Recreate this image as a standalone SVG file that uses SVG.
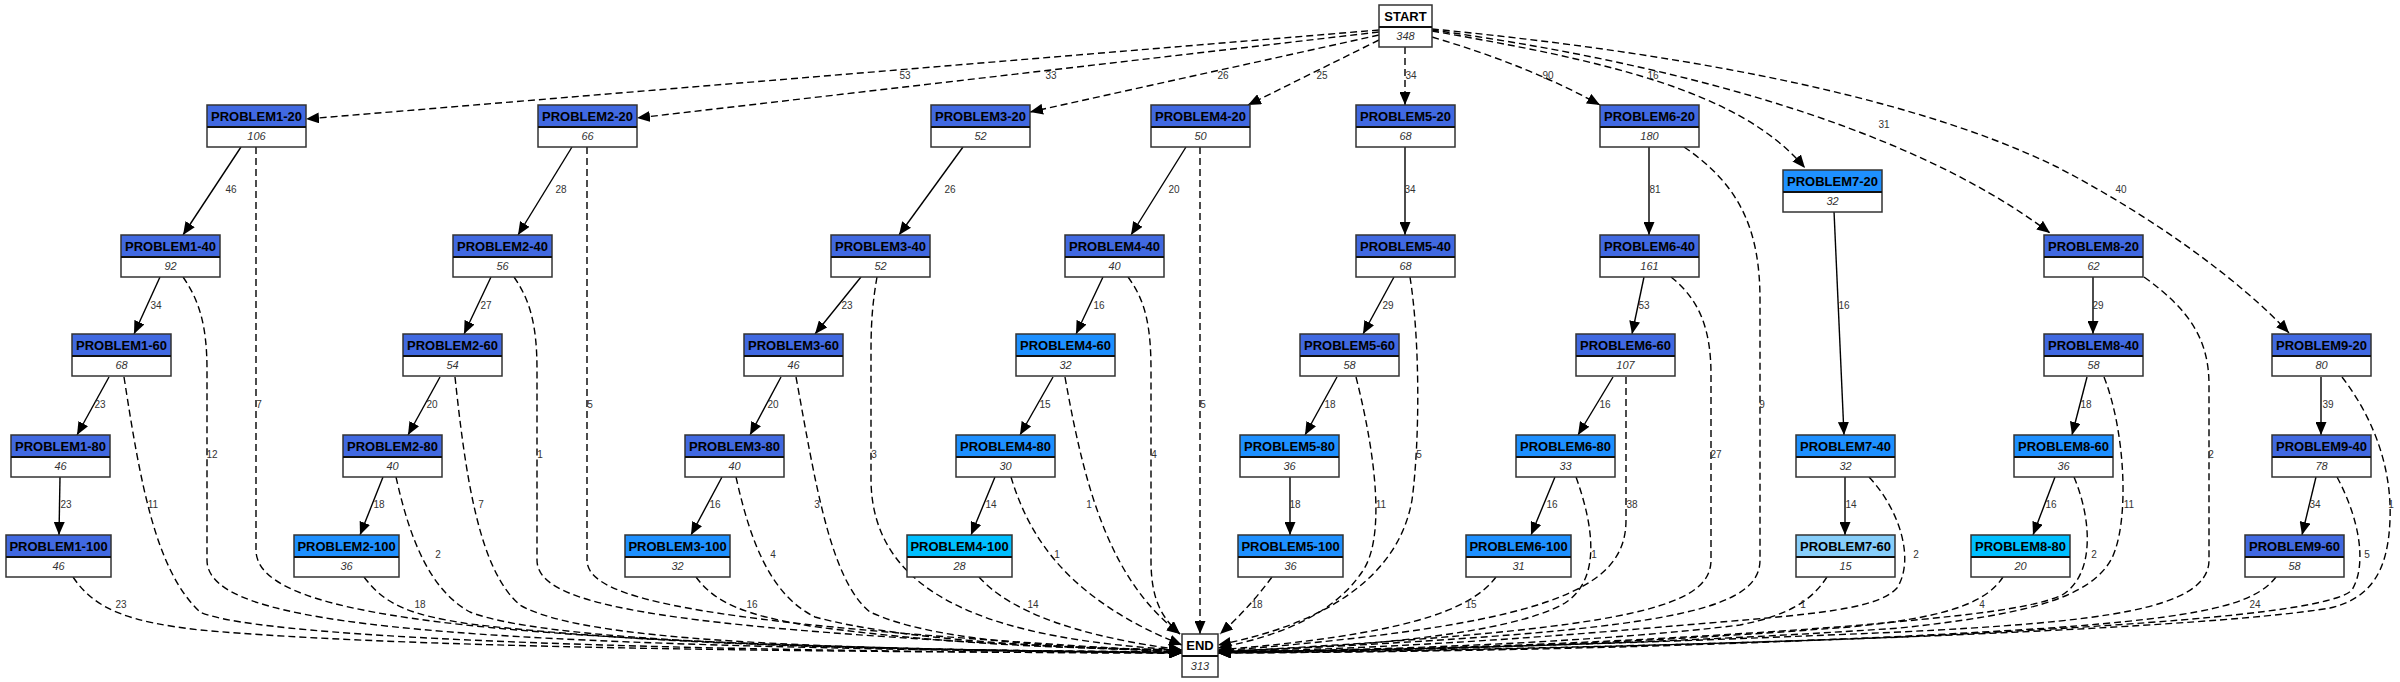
<svg xmlns="http://www.w3.org/2000/svg" width="2400" height="682" viewBox="0 0 2400 682">
<style>
.bg{fill:#ffffff}
.e{fill:none;stroke:#000;stroke-width:1.4}
.d{stroke-dasharray:7,4}
.lbl{font-family:"Liberation Sans",Arial,sans-serif;font-size:10px;fill:#333;text-anchor:middle}
.hd{stroke:none}
.royal{fill:#4169E1}
.dodger{fill:#1E90FF}
.deepsky{fill:#00BFFF}
.lightsky{fill:#87CEFA}
.wh{fill:#ffffff}
.body{fill:#ffffff;stroke:none}
.border{fill:none;stroke:#333;stroke-width:1.5}
.sep{stroke:#111;stroke-width:2}
.name{font-family:"Liberation Sans",Arial,sans-serif;font-size:13px;font-weight:bold;fill:#000;text-anchor:middle}
.cnt{font-family:"Liberation Sans",Arial,sans-serif;font-size:11px;font-style:italic;fill:#333;text-anchor:middle}
</style>
<defs>
<marker id="arr" markerUnits="userSpaceOnUse" markerWidth="14" markerHeight="11" refX="13" refY="5.5" orient="auto">
<path d="M0,0 L13,5.5 L0,11 Z" fill="#000"/>
</marker>
</defs>
<rect class="bg" x="0" y="0" width="2400" height="682"/>
<g id="edges">
<!-- START edges -->
<path class="e d" marker-end="url(#arr)" d="M1379,30 L306,119"/>
<path class="e d" marker-end="url(#arr)" d="M1379,32 L637,118"/>
<path class="e d" marker-end="url(#arr)" d="M1379,35 L1030,112"/>
<path class="e d" marker-end="url(#arr)" d="M1379,40 L1248,105"/>
<path class="e d" marker-end="url(#arr)" d="M1405,47 L1405,105"/>
<path class="e d" marker-end="url(#arr)" d="M1432,37 Q1530,66 1600,105"/>
<path class="e d" marker-end="url(#arr)" d="M1432,31 C1600,60 1740,90 1805,168"/>
<path class="e d" marker-end="url(#arr)" d="M1432,30 C1650,60 1900,120 2050,233"/>
<path class="e d" marker-end="url(#arr)" d="M1432,29 C1650,50 1900,90 2057,167 C2150,215 2240,280 2289,333"/>
<!-- chain edges -->
<path class="e" marker-end="url(#arr)" d="M241,147 L183,235"/>
<path class="e" marker-end="url(#arr)" d="M160,277 L134,334"/>
<path class="e" marker-end="url(#arr)" d="M109,377 L77,435"/>
<path class="e" marker-end="url(#arr)" d="M60,477 L59,535"/>
<path class="e" marker-end="url(#arr)" d="M572,147 L518,235"/>
<path class="e" marker-end="url(#arr)" d="M491,277 L464,334"/>
<path class="e" marker-end="url(#arr)" d="M440,377 L408,435"/>
<path class="e" marker-end="url(#arr)" d="M383,477 L360,535"/>
<path class="e" marker-end="url(#arr)" d="M963,147 L899,235"/>
<path class="e" marker-end="url(#arr)" d="M861,277 L815,334"/>
<path class="e" marker-end="url(#arr)" d="M781,377 L750,435"/>
<path class="e" marker-end="url(#arr)" d="M722,477 L691,535"/>
<path class="e" marker-end="url(#arr)" d="M1186,147 L1131,235"/>
<path class="e" marker-end="url(#arr)" d="M1103,277 L1076,334"/>
<path class="e" marker-end="url(#arr)" d="M1053,377 L1020,435"/>
<path class="e" marker-end="url(#arr)" d="M995,477 L971,535"/>
<path class="e" marker-end="url(#arr)" d="M1405,147 L1405,235"/>
<path class="e" marker-end="url(#arr)" d="M1394,277 L1363,334"/>
<path class="e" marker-end="url(#arr)" d="M1337,377 L1305,435"/>
<path class="e" marker-end="url(#arr)" d="M1290,477 L1290,535"/>
<path class="e" marker-end="url(#arr)" d="M1649,147 L1649,235"/>
<path class="e" marker-end="url(#arr)" d="M1644,277 L1632,334"/>
<path class="e" marker-end="url(#arr)" d="M1613,377 L1578,435"/>
<path class="e" marker-end="url(#arr)" d="M1555,477 L1531,535"/>
<path class="e" marker-end="url(#arr)" d="M1834,211 L1844,435"/>
<path class="e" marker-end="url(#arr)" d="M1845,477 L1845,535"/>
<path class="e" marker-end="url(#arr)" d="M2093,277 L2093,334"/>
<path class="e" marker-end="url(#arr)" d="M2087,377 L2072,435"/>
<path class="e" marker-end="url(#arr)" d="M2055,477 L2033,535"/>
<path class="e" marker-end="url(#arr)" d="M2321,377 L2321,435"/>
<path class="e" marker-end="url(#arr)" d="M2316,477 L2302,535"/>
<!-- END edges, left -->
<path class="e d" marker-end="url(#arr)" d="M256,147 L256,550 C256,620 500,645 1182,653"/>
<path class="e d" marker-end="url(#arr)" d="M183,277 C199,300 207,325 207,370 L207,560 C207,628 450,646 1182,653"/>
<path class="e d" marker-end="url(#arr)" d="M124,377 C140,480 155,570 200,612 C260,640 700,652 1182,653"/>
<path class="e d" marker-end="url(#arr)" d="M73,577 C95,610 130,622 200,630 C400,648 800,652 1182,653"/>
<path class="e d" marker-end="url(#arr)" d="M587,147 L587,560 C587,600 700,625 1182,652"/>
<path class="e d" marker-end="url(#arr)" d="M514,277 C530,300 537,325 537,370 L537,560 C537,605 650,630 1182,652"/>
<path class="e d" marker-end="url(#arr)" d="M455,377 C465,470 478,570 520,605 C580,640 800,650 1182,652"/>
<path class="e d" marker-end="url(#arr)" d="M396,477 C410,540 430,590 470,612 C540,640 800,650 1182,652"/>
<path class="e d" marker-end="url(#arr)" d="M364,577 C385,605 410,615 470,624 C650,645 900,651 1182,652"/>
<path class="e d" marker-end="url(#arr)" d="M877,277 C873,300 871,320 871,350 L871,480 C872,600 1000,640 1182,650"/>
<path class="e d" marker-end="url(#arr)" d="M796,377 C815,480 830,580 870,612 C930,640 1050,648 1182,650"/>
<path class="e d" marker-end="url(#arr)" d="M736,477 C750,540 770,595 815,617 C900,640 1050,648 1182,650"/>
<path class="e d" marker-end="url(#arr)" d="M696,577 C715,603 745,615 810,626 C950,645 1080,649 1182,650"/>
<path class="e d" marker-end="url(#arr)" d="M1128,277 C1145,300 1151,325 1151,370 L1151,560 C1151,600 1162,618 1180,634"/>
<path class="e d" marker-end="url(#arr)" d="M1065,377 C1085,490 1110,580 1180,634"/>
<path class="e d" marker-end="url(#arr)" d="M1011,477 C1030,540 1070,600 1182,645"/>
<path class="e d" marker-end="url(#arr)" d="M979,577 C1010,612 1080,637 1182,650"/>
<path class="e d" marker-end="url(#arr)" d="M1200,147 L1200,634"/>
<!-- END edges, right -->
<path class="e d" marker-end="url(#arr)" d="M1272,577 C1255,600 1238,618 1220,634"/>
<path class="e d" marker-end="url(#arr)" d="M1410,277 C1420,340 1420,440 1412,500 C1398,580 1320,625 1218,645"/>
<path class="e d" marker-end="url(#arr)" d="M1356,377 C1377,460 1385,540 1362,572 C1335,612 1285,635 1218,648"/>
<path class="e d" marker-end="url(#arr)" d="M1684,147 C1740,185 1760,230 1760,300 L1760,560 C1760,615 1650,632 1218,652"/>
<path class="e d" marker-end="url(#arr)" d="M1671,277 C1700,300 1711,330 1711,375 L1711,560 C1711,610 1620,630 1218,652"/>
<path class="e d" marker-end="url(#arr)" d="M1626,377 L1626,520 C1626,590 1550,625 1218,651"/>
<path class="e d" marker-end="url(#arr)" d="M1576,477 C1595,530 1600,580 1565,603 C1510,635 1350,648 1218,651"/>
<path class="e d" marker-end="url(#arr)" d="M1496,577 C1470,612 1400,635 1218,650"/>
<path class="e d" marker-end="url(#arr)" d="M1869,477 C1900,510 1915,560 1897,588 C1875,612 1800,615 1650,628 C1450,645 1320,650 1218,652"/>
<path class="e d" marker-end="url(#arr)" d="M1827,577 C1812,600 1790,615 1740,625 C1600,642 1400,650 1218,652"/>
<path class="e d" marker-end="url(#arr)" d="M2144,277 C2190,310 2209,340 2209,385 L2209,560 C2209,610 2100,622 1900,632 C1600,645 1400,650 1218,652"/>
<path class="e d" marker-end="url(#arr)" d="M2104,377 C2125,430 2130,520 2112,558 C2090,600 2020,615 1900,628 C1650,645 1400,650 1218,652"/>
<path class="e d" marker-end="url(#arr)" d="M2074,477 C2092,520 2095,575 2062,595 C2030,610 1950,617 1850,626 C1600,645 1400,650 1218,652"/>
<path class="e d" marker-end="url(#arr)" d="M2003,577 C1985,605 1940,618 1850,627 C1600,646 1400,651 1218,652"/>
<path class="e d" marker-end="url(#arr)" d="M2342,377 C2375,420 2392,470 2390,520 C2388,570 2372,598 2330,608 C2200,630 1700,648 1218,653"/>
<path class="e d" marker-end="url(#arr)" d="M2337,477 C2360,520 2367,565 2352,590 C2330,612 2150,625 1900,637 C1600,648 1400,652 1218,653"/>
<path class="e d" marker-end="url(#arr)" d="M2276,577 C2255,605 2200,617 2050,628 C1750,647 1450,652 1218,653"/>
<!-- labels -->
<text class="lbl" x="905" y="78.5">53</text>
<text class="lbl" x="1051" y="78.5">33</text>
<text class="lbl" x="1223" y="78.5">26</text>
<text class="lbl" x="1322" y="78.5">25</text>
<text class="lbl" x="1411" y="78.5">34</text>
<text class="lbl" x="1548" y="78.5">90</text>
<text class="lbl" x="1653" y="78.5">16</text>
<text class="lbl" x="1884" y="127.5">31</text>
<text class="lbl" x="2121" y="192.5">40</text>
<text class="lbl" x="231" y="192.5">46</text>
<text class="lbl" x="561" y="192.5">28</text>
<text class="lbl" x="950" y="192.5">26</text>
<text class="lbl" x="1174" y="192.5">20</text>
<text class="lbl" x="1410" y="192.5">34</text>
<text class="lbl" x="1655" y="192.5">81</text>
<text class="lbl" x="156" y="308.5">34</text>
<text class="lbl" x="486" y="308.5">27</text>
<text class="lbl" x="847" y="308.5">23</text>
<text class="lbl" x="1099" y="308.5">16</text>
<text class="lbl" x="1388" y="308.5">29</text>
<text class="lbl" x="1644" y="308.5">53</text>
<text class="lbl" x="1844" y="308.5">16</text>
<text class="lbl" x="2098" y="308.5">29</text>
<text class="lbl" x="100" y="407.5">23</text>
<text class="lbl" x="259" y="407.5">7</text>
<text class="lbl" x="432" y="407.5">20</text>
<text class="lbl" x="590" y="407.5">5</text>
<text class="lbl" x="773" y="407.5">20</text>
<text class="lbl" x="1045" y="407.5">15</text>
<text class="lbl" x="1203" y="407.5">5</text>
<text class="lbl" x="1330" y="407.5">18</text>
<text class="lbl" x="1605" y="407.5">16</text>
<text class="lbl" x="1762" y="407.5">9</text>
<text class="lbl" x="2086" y="407.5">18</text>
<text class="lbl" x="2328" y="407.5">39</text>
<text class="lbl" x="212" y="457.5">12</text>
<text class="lbl" x="540" y="457.5">1</text>
<text class="lbl" x="874" y="457.5">3</text>
<text class="lbl" x="1154" y="457.5">4</text>
<text class="lbl" x="1419" y="457.5">5</text>
<text class="lbl" x="1716" y="457.5">27</text>
<text class="lbl" x="2211" y="457.5">2</text>
<text class="lbl" x="66" y="507.5">23</text>
<text class="lbl" x="153" y="507.5">11</text>
<text class="lbl" x="379" y="507.5">18</text>
<text class="lbl" x="481" y="507.5">7</text>
<text class="lbl" x="715" y="507.5">16</text>
<text class="lbl" x="817" y="507.5">3</text>
<text class="lbl" x="991" y="507.5">14</text>
<text class="lbl" x="1089" y="507.5">1</text>
<text class="lbl" x="1295" y="507.5">18</text>
<text class="lbl" x="1381" y="507.5">11</text>
<text class="lbl" x="1552" y="507.5">16</text>
<text class="lbl" x="1632" y="507.5">38</text>
<text class="lbl" x="1851" y="507.5">14</text>
<text class="lbl" x="2051" y="507.5">16</text>
<text class="lbl" x="2129" y="507.5">11</text>
<text class="lbl" x="2315" y="507.5">34</text>
<text class="lbl" x="2391" y="507.5">1</text>
<text class="lbl" x="438" y="557.5">2</text>
<text class="lbl" x="773" y="557.5">4</text>
<text class="lbl" x="1057" y="557.5">1</text>
<text class="lbl" x="1594" y="557.5">1</text>
<text class="lbl" x="1916" y="557.5">2</text>
<text class="lbl" x="2094" y="557.5">2</text>
<text class="lbl" x="2367" y="557.5">5</text>
<text class="lbl" x="121" y="607.5">23</text>
<text class="lbl" x="420" y="607.5">18</text>
<text class="lbl" x="752" y="607.5">16</text>
<text class="lbl" x="1033" y="607.5">14</text>
<text class="lbl" x="1257" y="607.5">18</text>
<text class="lbl" x="1471" y="607.5">15</text>
<text class="lbl" x="1803" y="607.5">1</text>
<text class="lbl" x="1982" y="607.5">4</text>
<text class="lbl" x="2255" y="607.5">24</text>
</g>
<g id="start"><rect class="wh" x="1379" y="5" width="53" height="22"/><rect class="body" x="1379" y="27" width="53" height="20"/><rect class="border" x="1379" y="5" width="53" height="42"/><line class="sep" x1="1379" y1="27" x2="1432" y2="27"/><text class="name" x="1405.5" y="20.5">START</text><text class="cnt" x="1405.5" y="40">348</text></g>
<g id="end"><rect class="wh" x="1182" y="634" width="36" height="22"/><rect class="body" x="1182" y="656" width="36" height="21"/><rect class="border" x="1182" y="634" width="36" height="43"/><line class="sep" x1="1182" y1="656" x2="1218" y2="656"/><text class="name" x="1200" y="649.5">END</text><text class="cnt" x="1200" y="670">313</text></g>
<g id="problem1-20"><rect class="royal" x="207" y="105" width="99" height="22"/><rect class="body" x="207" y="127" width="99" height="20"/><rect class="border" x="207" y="105" width="99" height="42"/><line class="sep" x1="207" y1="127" x2="306" y2="127"/><text class="name" x="256.5" y="120.5">PROBLEM1-20</text><text class="cnt" x="256.5" y="140">106</text></g>
<g id="problem2-20"><rect class="royal" x="538" y="105" width="99" height="22"/><rect class="body" x="538" y="127" width="99" height="20"/><rect class="border" x="538" y="105" width="99" height="42"/><line class="sep" x1="538" y1="127" x2="637" y2="127"/><text class="name" x="587.5" y="120.5">PROBLEM2-20</text><text class="cnt" x="587.5" y="140">66</text></g>
<g id="problem3-20"><rect class="royal" x="931" y="105" width="99" height="22"/><rect class="body" x="931" y="127" width="99" height="20"/><rect class="border" x="931" y="105" width="99" height="42"/><line class="sep" x1="931" y1="127" x2="1030" y2="127"/><text class="name" x="980.5" y="120.5">PROBLEM3-20</text><text class="cnt" x="980.5" y="140">52</text></g>
<g id="problem4-20"><rect class="royal" x="1151" y="105" width="99" height="22"/><rect class="body" x="1151" y="127" width="99" height="20"/><rect class="border" x="1151" y="105" width="99" height="42"/><line class="sep" x1="1151" y1="127" x2="1250" y2="127"/><text class="name" x="1200.5" y="120.5">PROBLEM4-20</text><text class="cnt" x="1200.5" y="140">50</text></g>
<g id="problem5-20"><rect class="royal" x="1356" y="105" width="99" height="22"/><rect class="body" x="1356" y="127" width="99" height="20"/><rect class="border" x="1356" y="105" width="99" height="42"/><line class="sep" x1="1356" y1="127" x2="1455" y2="127"/><text class="name" x="1405.5" y="120.5">PROBLEM5-20</text><text class="cnt" x="1405.5" y="140">68</text></g>
<g id="problem6-20"><rect class="royal" x="1600" y="105" width="99" height="22"/><rect class="body" x="1600" y="127" width="99" height="20"/><rect class="border" x="1600" y="105" width="99" height="42"/><line class="sep" x1="1600" y1="127" x2="1699" y2="127"/><text class="name" x="1649.5" y="120.5">PROBLEM6-20</text><text class="cnt" x="1649.5" y="140">180</text></g>
<g id="problem7-20"><rect class="dodger" x="1783" y="170" width="99" height="22"/><rect class="body" x="1783" y="192" width="99" height="20"/><rect class="border" x="1783" y="170" width="99" height="42"/><line class="sep" x1="1783" y1="192" x2="1882" y2="192"/><text class="name" x="1832.5" y="185.5">PROBLEM7-20</text><text class="cnt" x="1832.5" y="205">32</text></g>
<g id="problem8-20"><rect class="royal" x="2044" y="235" width="99" height="22"/><rect class="body" x="2044" y="257" width="99" height="20"/><rect class="border" x="2044" y="235" width="99" height="42"/><line class="sep" x1="2044" y1="257" x2="2143" y2="257"/><text class="name" x="2093.5" y="250.5">PROBLEM8-20</text><text class="cnt" x="2093.5" y="270">62</text></g>
<g id="problem9-20"><rect class="royal" x="2272" y="334" width="99" height="22"/><rect class="body" x="2272" y="356" width="99" height="20"/><rect class="border" x="2272" y="334" width="99" height="42"/><line class="sep" x1="2272" y1="356" x2="2371" y2="356"/><text class="name" x="2321.5" y="349.5">PROBLEM9-20</text><text class="cnt" x="2321.5" y="369">80</text></g>
<g id="problem1-40"><rect class="royal" x="121" y="235" width="99" height="22"/><rect class="body" x="121" y="257" width="99" height="20"/><rect class="border" x="121" y="235" width="99" height="42"/><line class="sep" x1="121" y1="257" x2="220" y2="257"/><text class="name" x="170.5" y="250.5">PROBLEM1-40</text><text class="cnt" x="170.5" y="270">92</text></g>
<g id="problem2-40"><rect class="royal" x="453" y="235" width="99" height="22"/><rect class="body" x="453" y="257" width="99" height="20"/><rect class="border" x="453" y="235" width="99" height="42"/><line class="sep" x1="453" y1="257" x2="552" y2="257"/><text class="name" x="502.5" y="250.5">PROBLEM2-40</text><text class="cnt" x="502.5" y="270">56</text></g>
<g id="problem3-40"><rect class="royal" x="831" y="235" width="99" height="22"/><rect class="body" x="831" y="257" width="99" height="20"/><rect class="border" x="831" y="235" width="99" height="42"/><line class="sep" x1="831" y1="257" x2="930" y2="257"/><text class="name" x="880.5" y="250.5">PROBLEM3-40</text><text class="cnt" x="880.5" y="270">52</text></g>
<g id="problem4-40"><rect class="royal" x="1065" y="235" width="99" height="22"/><rect class="body" x="1065" y="257" width="99" height="20"/><rect class="border" x="1065" y="235" width="99" height="42"/><line class="sep" x1="1065" y1="257" x2="1164" y2="257"/><text class="name" x="1114.5" y="250.5">PROBLEM4-40</text><text class="cnt" x="1114.5" y="270">40</text></g>
<g id="problem5-40"><rect class="royal" x="1356" y="235" width="99" height="22"/><rect class="body" x="1356" y="257" width="99" height="20"/><rect class="border" x="1356" y="235" width="99" height="42"/><line class="sep" x1="1356" y1="257" x2="1455" y2="257"/><text class="name" x="1405.5" y="250.5">PROBLEM5-40</text><text class="cnt" x="1405.5" y="270">68</text></g>
<g id="problem6-40"><rect class="royal" x="1600" y="235" width="99" height="22"/><rect class="body" x="1600" y="257" width="99" height="20"/><rect class="border" x="1600" y="235" width="99" height="42"/><line class="sep" x1="1600" y1="257" x2="1699" y2="257"/><text class="name" x="1649.5" y="250.5">PROBLEM6-40</text><text class="cnt" x="1649.5" y="270">161</text></g>
<g id="problem7-40"><rect class="dodger" x="1796" y="435" width="99" height="22"/><rect class="body" x="1796" y="457" width="99" height="20"/><rect class="border" x="1796" y="435" width="99" height="42"/><line class="sep" x1="1796" y1="457" x2="1895" y2="457"/><text class="name" x="1845.5" y="450.5">PROBLEM7-40</text><text class="cnt" x="1845.5" y="470">32</text></g>
<g id="problem8-40"><rect class="royal" x="2044" y="334" width="99" height="22"/><rect class="body" x="2044" y="356" width="99" height="20"/><rect class="border" x="2044" y="334" width="99" height="42"/><line class="sep" x1="2044" y1="356" x2="2143" y2="356"/><text class="name" x="2093.5" y="349.5">PROBLEM8-40</text><text class="cnt" x="2093.5" y="369">58</text></g>
<g id="problem9-40"><rect class="royal" x="2272" y="435" width="99" height="22"/><rect class="body" x="2272" y="457" width="99" height="20"/><rect class="border" x="2272" y="435" width="99" height="42"/><line class="sep" x1="2272" y1="457" x2="2371" y2="457"/><text class="name" x="2321.5" y="450.5">PROBLEM9-40</text><text class="cnt" x="2321.5" y="470">78</text></g>
<g id="problem1-60"><rect class="royal" x="72" y="334" width="99" height="22"/><rect class="body" x="72" y="356" width="99" height="20"/><rect class="border" x="72" y="334" width="99" height="42"/><line class="sep" x1="72" y1="356" x2="171" y2="356"/><text class="name" x="121.5" y="349.5">PROBLEM1-60</text><text class="cnt" x="121.5" y="369">68</text></g>
<g id="problem2-60"><rect class="royal" x="403" y="334" width="99" height="22"/><rect class="body" x="403" y="356" width="99" height="20"/><rect class="border" x="403" y="334" width="99" height="42"/><line class="sep" x1="403" y1="356" x2="502" y2="356"/><text class="name" x="452.5" y="349.5">PROBLEM2-60</text><text class="cnt" x="452.5" y="369">54</text></g>
<g id="problem3-60"><rect class="royal" x="744" y="334" width="99" height="22"/><rect class="body" x="744" y="356" width="99" height="20"/><rect class="border" x="744" y="334" width="99" height="42"/><line class="sep" x1="744" y1="356" x2="843" y2="356"/><text class="name" x="793.5" y="349.5">PROBLEM3-60</text><text class="cnt" x="793.5" y="369">46</text></g>
<g id="problem4-60"><rect class="dodger" x="1016" y="334" width="99" height="22"/><rect class="body" x="1016" y="356" width="99" height="20"/><rect class="border" x="1016" y="334" width="99" height="42"/><line class="sep" x1="1016" y1="356" x2="1115" y2="356"/><text class="name" x="1065.5" y="349.5">PROBLEM4-60</text><text class="cnt" x="1065.5" y="369">32</text></g>
<g id="problem5-60"><rect class="royal" x="1300" y="334" width="99" height="22"/><rect class="body" x="1300" y="356" width="99" height="20"/><rect class="border" x="1300" y="334" width="99" height="42"/><line class="sep" x1="1300" y1="356" x2="1399" y2="356"/><text class="name" x="1349.5" y="349.5">PROBLEM5-60</text><text class="cnt" x="1349.5" y="369">58</text></g>
<g id="problem6-60"><rect class="royal" x="1576" y="334" width="99" height="22"/><rect class="body" x="1576" y="356" width="99" height="20"/><rect class="border" x="1576" y="334" width="99" height="42"/><line class="sep" x1="1576" y1="356" x2="1675" y2="356"/><text class="name" x="1625.5" y="349.5">PROBLEM6-60</text><text class="cnt" x="1625.5" y="369">107</text></g>
<g id="problem7-60"><rect class="lightsky" x="1796" y="535" width="99" height="22"/><rect class="body" x="1796" y="557" width="99" height="20"/><rect class="border" x="1796" y="535" width="99" height="42"/><line class="sep" x1="1796" y1="557" x2="1895" y2="557"/><text class="name" x="1845.5" y="550.5">PROBLEM7-60</text><text class="cnt" x="1845.5" y="570">15</text></g>
<g id="problem8-60"><rect class="dodger" x="2014" y="435" width="99" height="22"/><rect class="body" x="2014" y="457" width="99" height="20"/><rect class="border" x="2014" y="435" width="99" height="42"/><line class="sep" x1="2014" y1="457" x2="2113" y2="457"/><text class="name" x="2063.5" y="450.5">PROBLEM8-60</text><text class="cnt" x="2063.5" y="470">36</text></g>
<g id="problem9-60"><rect class="royal" x="2245" y="535" width="99" height="22"/><rect class="body" x="2245" y="557" width="99" height="20"/><rect class="border" x="2245" y="535" width="99" height="42"/><line class="sep" x1="2245" y1="557" x2="2344" y2="557"/><text class="name" x="2294.5" y="550.5">PROBLEM9-60</text><text class="cnt" x="2294.5" y="570">58</text></g>
<g id="problem1-80"><rect class="royal" x="11" y="435" width="99" height="22"/><rect class="body" x="11" y="457" width="99" height="20"/><rect class="border" x="11" y="435" width="99" height="42"/><line class="sep" x1="11" y1="457" x2="110" y2="457"/><text class="name" x="60.5" y="450.5">PROBLEM1-80</text><text class="cnt" x="60.5" y="470">46</text></g>
<g id="problem2-80"><rect class="royal" x="343" y="435" width="99" height="22"/><rect class="body" x="343" y="457" width="99" height="20"/><rect class="border" x="343" y="435" width="99" height="42"/><line class="sep" x1="343" y1="457" x2="442" y2="457"/><text class="name" x="392.5" y="450.5">PROBLEM2-80</text><text class="cnt" x="392.5" y="470">40</text></g>
<g id="problem3-80"><rect class="royal" x="685" y="435" width="99" height="22"/><rect class="body" x="685" y="457" width="99" height="20"/><rect class="border" x="685" y="435" width="99" height="42"/><line class="sep" x1="685" y1="457" x2="784" y2="457"/><text class="name" x="734.5" y="450.5">PROBLEM3-80</text><text class="cnt" x="734.5" y="470">40</text></g>
<g id="problem4-80"><rect class="dodger" x="956" y="435" width="99" height="22"/><rect class="body" x="956" y="457" width="99" height="20"/><rect class="border" x="956" y="435" width="99" height="42"/><line class="sep" x1="956" y1="457" x2="1055" y2="457"/><text class="name" x="1005.5" y="450.5">PROBLEM4-80</text><text class="cnt" x="1005.5" y="470">30</text></g>
<g id="problem5-80"><rect class="dodger" x="1240" y="435" width="99" height="22"/><rect class="body" x="1240" y="457" width="99" height="20"/><rect class="border" x="1240" y="435" width="99" height="42"/><line class="sep" x1="1240" y1="457" x2="1339" y2="457"/><text class="name" x="1289.5" y="450.5">PROBLEM5-80</text><text class="cnt" x="1289.5" y="470">36</text></g>
<g id="problem6-80"><rect class="dodger" x="1516" y="435" width="99" height="22"/><rect class="body" x="1516" y="457" width="99" height="20"/><rect class="border" x="1516" y="435" width="99" height="42"/><line class="sep" x1="1516" y1="457" x2="1615" y2="457"/><text class="name" x="1565.5" y="450.5">PROBLEM6-80</text><text class="cnt" x="1565.5" y="470">33</text></g>
<g id="problem8-80"><rect class="deepsky" x="1971" y="535" width="99" height="22"/><rect class="body" x="1971" y="557" width="99" height="20"/><rect class="border" x="1971" y="535" width="99" height="42"/><line class="sep" x1="1971" y1="557" x2="2070" y2="557"/><text class="name" x="2020.5" y="550.5">PROBLEM8-80</text><text class="cnt" x="2020.5" y="570">20</text></g>
<g id="problem1-100"><rect class="royal" x="6" y="535" width="105" height="22"/><rect class="body" x="6" y="557" width="105" height="20"/><rect class="border" x="6" y="535" width="105" height="42"/><line class="sep" x1="6" y1="557" x2="111" y2="557"/><text class="name" x="58.5" y="550.5">PROBLEM1-100</text><text class="cnt" x="58.5" y="570">46</text></g>
<g id="problem2-100"><rect class="dodger" x="294" y="535" width="105" height="22"/><rect class="body" x="294" y="557" width="105" height="20"/><rect class="border" x="294" y="535" width="105" height="42"/><line class="sep" x1="294" y1="557" x2="399" y2="557"/><text class="name" x="346.5" y="550.5">PROBLEM2-100</text><text class="cnt" x="346.5" y="570">36</text></g>
<g id="problem3-100"><rect class="dodger" x="625" y="535" width="105" height="22"/><rect class="body" x="625" y="557" width="105" height="20"/><rect class="border" x="625" y="535" width="105" height="42"/><line class="sep" x1="625" y1="557" x2="730" y2="557"/><text class="name" x="677.5" y="550.5">PROBLEM3-100</text><text class="cnt" x="677.5" y="570">32</text></g>
<g id="problem4-100"><rect class="deepsky" x="907" y="535" width="105" height="22"/><rect class="body" x="907" y="557" width="105" height="20"/><rect class="border" x="907" y="535" width="105" height="42"/><line class="sep" x1="907" y1="557" x2="1012" y2="557"/><text class="name" x="959.5" y="550.5">PROBLEM4-100</text><text class="cnt" x="959.5" y="570">28</text></g>
<g id="problem5-100"><rect class="dodger" x="1238" y="535" width="105" height="22"/><rect class="body" x="1238" y="557" width="105" height="20"/><rect class="border" x="1238" y="535" width="105" height="42"/><line class="sep" x1="1238" y1="557" x2="1343" y2="557"/><text class="name" x="1290.5" y="550.5">PROBLEM5-100</text><text class="cnt" x="1290.5" y="570">36</text></g>
<g id="problem6-100"><rect class="dodger" x="1466" y="535" width="105" height="22"/><rect class="body" x="1466" y="557" width="105" height="20"/><rect class="border" x="1466" y="535" width="105" height="42"/><line class="sep" x1="1466" y1="557" x2="1571" y2="557"/><text class="name" x="1518.5" y="550.5">PROBLEM6-100</text><text class="cnt" x="1518.5" y="570">31</text></g>
</svg>
